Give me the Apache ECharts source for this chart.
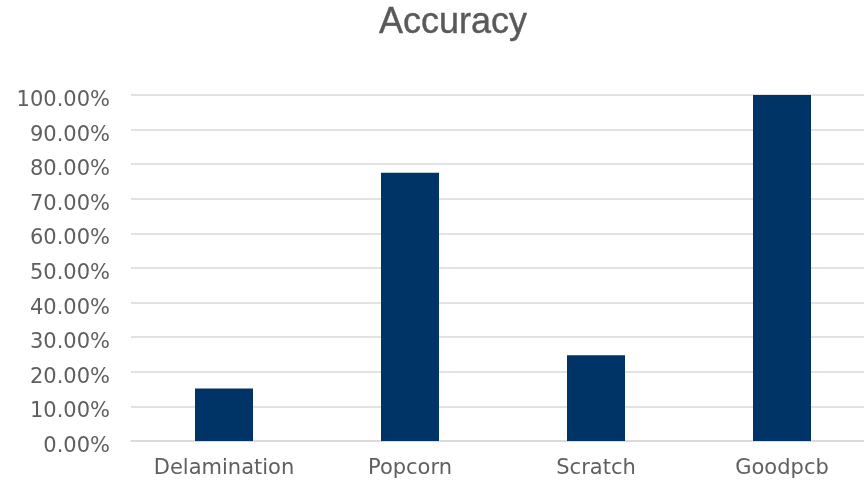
<!DOCTYPE html>
<html>
<head>
<meta charset="utf-8">
<script src="https://cdn.jsdelivr.net/npm/echarts@6/dist/echarts.min.js"></script>
<style>
  html, body { margin: 0; padding: 0; background: #fff; }
  #chart { width: 864px; height: 480px; }
</style>
</head>
<body>
<div id="chart"></div>
<script>
// Defect classes and the accuracy obtained on each (percent)
const categories = ['Delamination', 'Popcorn', 'Scratch', 'Goodpcb'];
const accuracy = [15.2, 77.5, 24.8, 100];
const yTicks = { min: 0, max: 100, step: 10 };

const axisFont = '"DejaVu Sans", sans-serif';
const titleFont = '"Liberation Sans", Arial, sans-serif';
const chart = echarts.init(document.getElementById('chart'));
chart.setOption({
  backgroundColor: '#ffffff',
  animation: false,
  title: {
    text: 'Accuracy',
    left: 448,
    textAlign: 'center',
    top: 0,
    textStyle: {
      fontFamily: titleFont, fontSize: 36, fontWeight: 'normal', color: '#595959',
      textBorderColor: '#595959', textBorderWidth: 0.4
    }
  },
  grid: {
    left: 131, top: 95, width: 744, height: 346,
    containLabel: false,
    outerBoundsMode: 'none'
  },
  xAxis: {
    type: 'category',
    data: categories,
    axisLine: { lineStyle: { color: '#d9d9d9', width: 1.5 } },
    axisTick: { show: false },
    axisLabel: { fontFamily: axisFont, fontSize: 21, color: '#5f5f5f', margin: 17 }
  },
  yAxis: {
    type: 'value',
    min: yTicks.min,
    max: yTicks.max,
    interval: yTicks.step,
    axisLine: { show: false },
    axisTick: { show: false },
    splitLine: { lineStyle: { color: '#d9d9d9', width: 1.5 } },
    axisLabel: {
      fontFamily: axisFont, fontSize: 21, color: '#5f5f5f', margin: 21,
      verticalAlign: 'top', lineHeight: 11,
      formatter: v => v.toFixed(2) + '%'
    }
  },
  series: [{
    type: 'bar',
    data: accuracy,
    barWidth: 58,
    itemStyle: { color: '#003366' }
  }]
});
</script>
</body>
</html>
